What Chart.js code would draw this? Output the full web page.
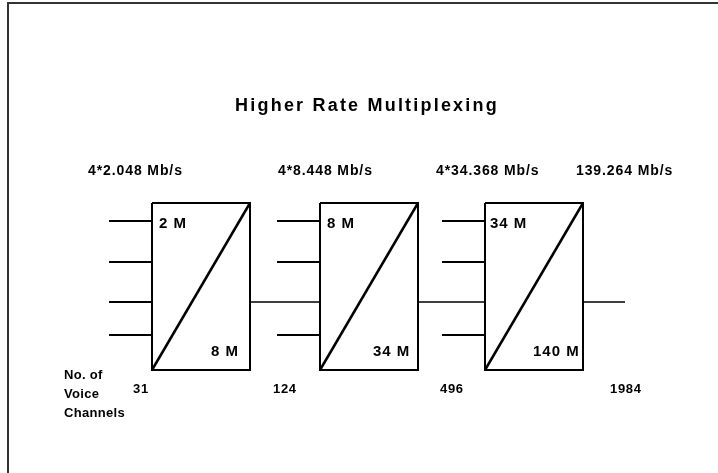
<!DOCTYPE html>
<html>
<head>
<meta charset="utf-8">
<script src="https://cdn.jsdelivr.net/npm/chart.js@4"></script>
<style>
  html, body { margin: 0; padding: 0; background: #fff; }
  #wrap { width: 718px; height: 473px; }
</style>
</head>
<body>
<div id="wrap"><canvas id="c" width="718" height="473"></canvas></div>
<script>
// ---- content ----
const chartTitle = 'Higher Rate Multiplexing';
const stageInputs = ['2 M', '8 M', '34 M'];
const stageOutputs = ['8 M', '34 M', '140 M'];
const rateLabels = ['4*2.048 Mb/s', '4*8.448 Mb/s', '4*34.368 Mb/s', '139.264 Mb/s'];
const voiceChannels = [31, 124, 496, 1984];
const channelCaption = ['No. of', 'Voice', 'Channels'];
const tributaries = [0, 1, 2, 3];   // four inputs per multiplexer
const outputTributary = 2;          // output joins the 3rd input of next stage

// ---- layout (in scale units) ----
const L = {
  boxLeft: [152, 320, 485], boxWidth: 98, boxTop: 203, boxBottom: 370,
  stub: 43, laneY: [221, 262, 302, 335], lastOutEnd: 625,
  rateX: [88, 278, 436, 576], rateY: 175,
  inLabelX: [159, 327, 490], inLabelY: 228,
  outLabelX: [211, 373, 533], outLabelY: 356,
  chanX: [133, 273, 440, 610], chanY: 393,
  captionX: 64, captionY: [379, 398, 417],
  frame: { left: 8, top: 3, right: 718, bottom: 473 },
  title: { x: 367, y: 111 }
};

const datasets = [];
function seg(points, width, color) {
  datasets.push({
    data: points, showLine: true, pointRadius: 0, borderWidth: width,
    borderColor: color || '#000', fill: false, tension: 0,
    borderJoinStyle: 'miter', borderCapStyle: 'butt'
  });
}
// frame
seg([{x: L.frame.left, y: L.frame.bottom}, {x: L.frame.left, y: L.frame.top}, {x: L.frame.right, y: L.frame.top}], 2, '#333');

stageInputs.forEach((_, i) => {
  const l = L.boxLeft[i], r = l + L.boxWidth, t = L.boxTop, b = L.boxBottom;
  seg([{x: l, y: t}, {x: r, y: t}, {x: r, y: b}, {x: l, y: b}, {x: l, y: t}], 2);
  seg([{x: l, y: b}, {x: r, y: t}], 2.5);
  tributaries.forEach(k => {
    if (i > 0 && k === outputTributary) return;
    seg([{x: l - L.stub, y: L.laneY[k]}, {x: l, y: L.laneY[k]}], 2);
  });
  const endX = i < stageInputs.length - 1 ? L.boxLeft[i + 1] : L.lastOutEnd;
  seg([{x: r, y: L.laneY[outputTributary]}, {x: endX, y: L.laneY[outputTributary]}], 1.6);
});

const FONT = '"Liberation Sans", Arial, sans-serif';
const textPlugin = {
  id: 'texts',
  afterDatasetsDraw(chart) {
    const ctx = chart.ctx, xs = chart.scales.x, ys = chart.scales.y;
    const px = v => xs.getPixelForValue(v), py = v => ys.getPixelForValue(v);
    function put(txt, x, y, font, spacing, align) {
      ctx.save();
      ctx.font = font;
      ctx.fillStyle = '#000';
      ctx.textBaseline = 'alphabetic';
      ctx.textAlign = align || 'left';
      if ('letterSpacing' in ctx) ctx.letterSpacing = spacing + 'px';
      ctx.fillText(txt, px(x), py(y));
      ctx.restore();
    }
    put(chartTitle, L.title.x, L.title.y, 'bold 18px ' + FONT, 2.2, 'center');
    rateLabels.forEach((t, i) => put(t, L.rateX[i], L.rateY, 'bold 14px ' + FONT, 0.9));
    stageInputs.forEach((t, i) => {
      put(t, L.inLabelX[i], L.inLabelY, 'bold 15px ' + FONT, 1);
      put(stageOutputs[i], L.outLabelX[i], L.outLabelY, 'bold 15px ' + FONT, 1);
    });
    voiceChannels.forEach((v, i) => put(String(v), L.chanX[i], L.chanY, 'bold 13px ' + FONT, 0.7));
    channelCaption.forEach((t, i) => put(t, L.captionX, L.captionY[i], 'bold 13px ' + FONT, 0.3));
  }
};

new Chart(document.getElementById('c'), {
  type: 'scatter',
  data: { datasets },
  options: {
    responsive: false, animation: false, devicePixelRatio: 1,
    layout: { padding: 0 },
    plugins: { legend: { display: false }, tooltip: { enabled: false }, title: { display: false } },
    scales: {
      x: { type: 'linear', min: 0, max: 718, display: false },
      y: { type: 'linear', min: 0, max: 473, reverse: true, display: false }
    }
  },
  plugins: [textPlugin]
});
</script>
</body>
</html>
